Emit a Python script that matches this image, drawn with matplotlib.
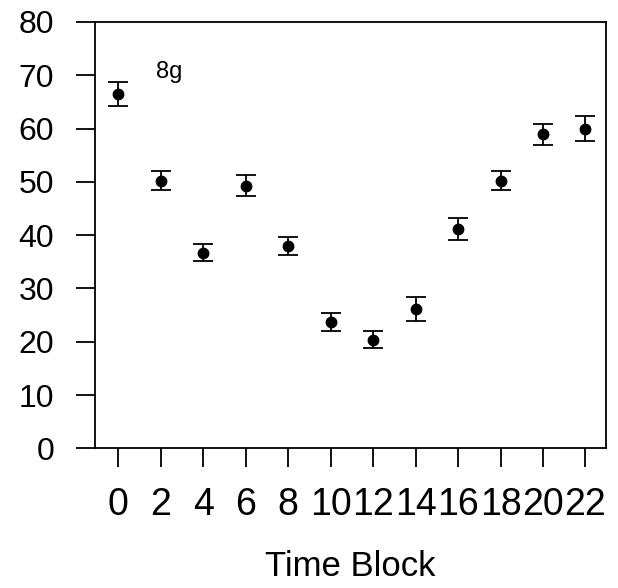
import matplotlib
matplotlib.use('Agg')
from matplotlib import pyplot as plt

# time blocks and mean values with error
blocks = [0, 2, 4, 6, 8, 10, 12, 14, 16, 18, 20, 22]
means = [66.5, 50.2, 36.7, 49.3, 38.0, 23.7, 20.4, 26.1, 41.1, 50.2, 58.9, 60.0]
errs = [2.3, 1.8, 1.6, 1.9, 1.65, 1.6, 1.6, 2.2, 2.1, 1.75, 2.0, 2.3]
yticks = [0, 10, 20, 30, 40, 50, 60, 70, 80]

plt.rcParams['font.family'] = ['Liberation Sans', 'DejaVu Sans']

fig = plt.figure(figsize=(6.18, 5.88), dpi=100)
ax = fig.add_axes([0.1537, 0.2376, 0.8263, 0.725])

ax.errorbar(blocks, means, yerr=errs, fmt='o', color='black', markersize=7.5,
            capsize=7.5, elinewidth=1.3, capthick=1.3)

ax.set_xlim(-1.1, 22.95)
ax.set_ylim(0, 80)
ax.set_xticks(blocks)
ax.set_yticks(yticks)
ax.tick_params(axis='y', direction='out', length=13.5, width=1.3, labelsize=23, pad=16)
ax.tick_params(axis='x', direction='out', length=14, width=1.3, labelsize=27, pad=14)
for s in ax.spines.values():
    s.set_linewidth(1.3)

ax.text(1.75, 69.5, '8g', fontsize=17, ha='left', va='baseline')
ax.set_xlabel('Time Block', fontsize=25, labelpad=19)

fig.savefig('out.png', dpi=100)
